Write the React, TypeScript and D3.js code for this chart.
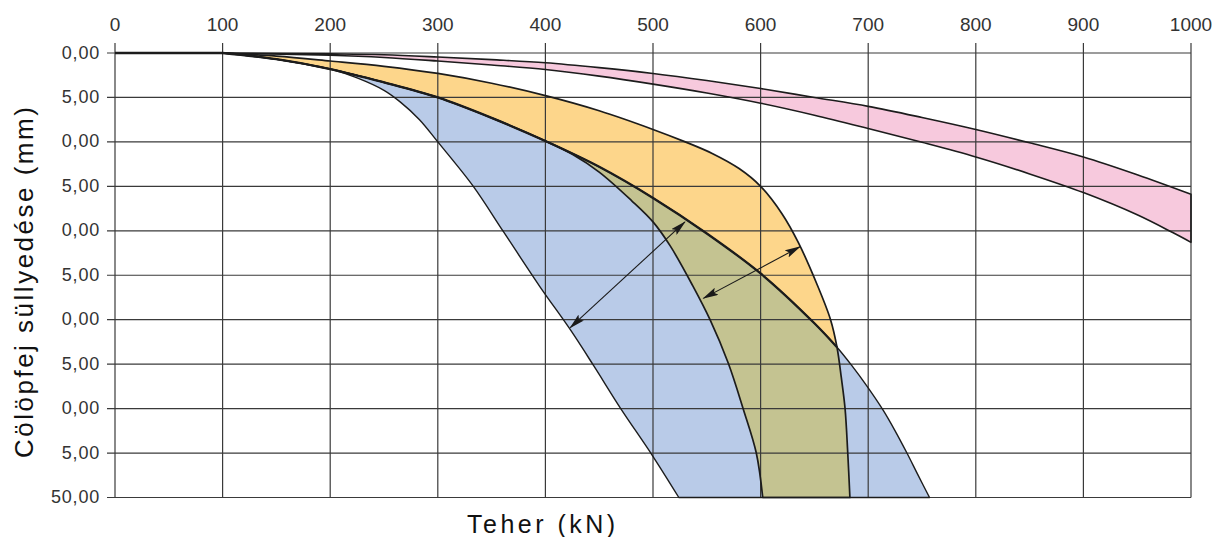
import * as d3 from 'd3';

// Load axis (kN) and settlement axis (mm) ticks as printed
const LOAD_TICKS = [0, 100, 200, 300, 400, 500, 600, 700, 800, 900, 1000];
const SETTLE_TICKS = [0, 5, 10, 15, 20, 25, 30, 35, 40, 45, 50];
const SETTLE_LABELS = ['0,00', '5,00', '0,00', '5,00', '0,00', '5,00', '0,00', '5,00', '0,00', '5,00', '50,00'];

// [load kN, settlement mm]; every curve is flat at 0 up to 100 kN
const flatStart = [[0, 0], [100, 0]];
const loadLine = [[100, 0], [150, 0.7], [200, 1.8], [250, 3.3], [300, 5.0], [350, 7.3], [400, 9.9], [450, 12.8], [500, 16.3], [550, 20.3], [600, 24.8], [650, 30.4], [671, 33.1]];
const blueTail = [[671, 33.1], [685, 35.2], [699, 37.5], [714, 40.2], [725, 42.5], [736, 45], [746, 47.4], [757, 50]];
const blueOuter = [[100, 0], [150, 0.7], [200, 1.8], [225, 2.8], [250, 4.2], [265, 5.5], [283, 7.5], [300, 10], [333, 15], [361, 20.1], [395, 26.3], [423, 31.1], [445, 35.2], [470, 40], [499, 45.2], [524, 50]];
const oliveEdge = [[425, 11.4], [450, 13.4], [480, 16.6], [500, 19.0], [516, 21.7], [537, 26.2], [553, 30], [570, 34.9], [584, 40.1], [596, 45], [602, 50]];
const orangeOuter = [[100, 0], [150, 0.35], [200, 0.9], [250, 1.5], [300, 2.3], [350, 3.4], [400, 4.8], [450, 6.5], [500, 8.6], [530, 10], [555, 11.3], [580, 13.0], [600, 15.0], [620, 18.1], [635, 21.3], [652, 25.9], [665, 30], [671, 33.1]];
const orangeTail = [[671, 33.1], [675, 36.5], [678.5, 40], [681, 45], [683, 50]];
const pinkUpper = [[100, 0], [200, 0.1], [250, 0.2], [300, 0.45], [350, 0.75], [400, 1.1], [450, 1.65], [500, 2.3], [550, 3.1], [600, 4.0], [650, 5.0], [700, 6.0], [750, 7.25], [800, 8.6], [850, 10.1], [900, 11.7], [950, 13.7], [1000, 15.9]];
const pinkLower = [[100, 0], [200, 0.25], [250, 0.5], [300, 0.9], [350, 1.35], [400, 1.85], [450, 2.6], [500, 3.5], [550, 4.5], [600, 5.65], [650, 7.0], [700, 8.5], [750, 10.05], [800, 11.7], [850, 13.6], [900, 15.7], [950, 18.2], [983, 20.2], [1000, 21.3]];
const arrows = [
  [[423, 30.9], [529.7, 19.0]],
  [[546.8, 27.6], [636.6, 21.8]],
];

const W = 1229;
const H = 537;
const FONT = '"Liberation Sans", Arial, Helvetica, sans-serif';

export default function App() {
  const x = d3.scaleLinear().domain([0, 1000]).range([115, 1191]);
  const y = d3.scaleLinear().domain([0, 50]).range([53, 497.5]);

  const line = d3.line<number[]>()
    .x(d => x(d[0]))
    .y(d => y(d[1]))
    .curve(d3.curveCatmullRom.alpha(0.5));

  // closed band: first edge forward, second edge backward
  const band = (a: number[][], b: number[][]) =>
    line(a) + 'L' + (line(b.slice().reverse()) as string).slice(1) + 'Z';

  const blueRight = loadLine.concat(blueTail.slice(1));
  const orangeLeft = loadLine.filter(d => d[0] <= 400).concat(oliveEdge);
  const orangeRight = orangeOuter.concat(orangeTail.slice(1));

  const bluePath = band(blueOuter, blueRight);
  const orangePath = band(orangeLeft, orangeRight);
  const pinkPath = band(pinkUpper, pinkLower);

  return (
    <svg width={W} height={H} style={{ position: 'absolute', left: 0, top: 0, background: '#fff' }}>
      <defs>
        <clipPath id="blueClip">
          <path d={bluePath} />
        </clipPath>
        <marker id="head" viewBox="0 0 16 8" refX="15" refY="4" markerWidth="16" markerHeight="8"
          markerUnits="userSpaceOnUse" orient="auto-start-reverse">
          <path d="M0,0 L16,4 L0,8 L3,4 Z" fill="#1a1a1a" />
        </marker>
      </defs>

      {/* filled bands */}
      <path d={pinkPath} fill="#f7c9dd" />
      <path d={bluePath} fill="#b9cbe8" />
      <path d={orangePath} fill="#fdd68b" />
      <path d={orangePath} fill="#c4c391" clipPath="url(#blueClip)" />

      {/* grid */}
      {LOAD_TICKS.map(t => (
        <line key={'v' + t} x1={x(t)} x2={x(t)} y1={43} y2={y(50)} stroke="#3a3a3a" strokeWidth={1.2} />
      ))}
      {SETTLE_TICKS.map(t => (
        <line key={'h' + t} x1={107} x2={x(1000)} y1={y(t)} y2={y(t)} stroke="#3a3a3a" strokeWidth={1.2} />
      ))}

      {/* band outlines */}
      <g fill="none" stroke="#1c1c1c" strokeLinejoin="round">
        <path d={pinkPath} strokeWidth={1.6} />
        <path d={bluePath} strokeWidth={1.4} />
        <path d={orangePath} strokeWidth={1.7} />
        <path d={line(loadLine) as string} strokeWidth={2.3} />
        <path d={d3.line<number[]>().x(d => x(d[0])).y(d => y(d[1]))(flatStart) as string} strokeWidth={2.6} />
      </g>

      {/* double-headed arrows */}
      {arrows.map((a, i) => (
        <line key={'a' + i} x1={x(a[0][0])} y1={y(a[0][1])} x2={x(a[1][0])} y2={y(a[1][1])}
          stroke="#1a1a1a" strokeWidth={1.1} markerStart="url(#head)" markerEnd="url(#head)" />
      ))}

      {/* tick labels */}
      {LOAD_TICKS.map(t => (
        <text key={'xt' + t} x={x(t)} y={31} textAnchor="middle" fontFamily={FONT} fontSize={19} fill="#333">{t}</text>
      ))}
      {SETTLE_TICKS.map((t, i) => (
        <text key={'yt' + t} x={100} y={y(t) + 5.5} textAnchor="end" fontFamily={FONT} fontSize={18}
          letterSpacing={0.8} fill="#333">{SETTLE_LABELS[i]}</text>
      ))}

      {/* axis titles */}
      <text transform="translate(33,458) rotate(-90)" fontFamily={FONT} fontSize={26} letterSpacing={2.5} fill="#111">
        Cölöpfej süllyedése (mm)
      </text>
      <text x={467} y={533} fontFamily={FONT} fontSize={25} letterSpacing={3.5} fill="#111">Teher (kN)</text>
    </svg>
  );
}
